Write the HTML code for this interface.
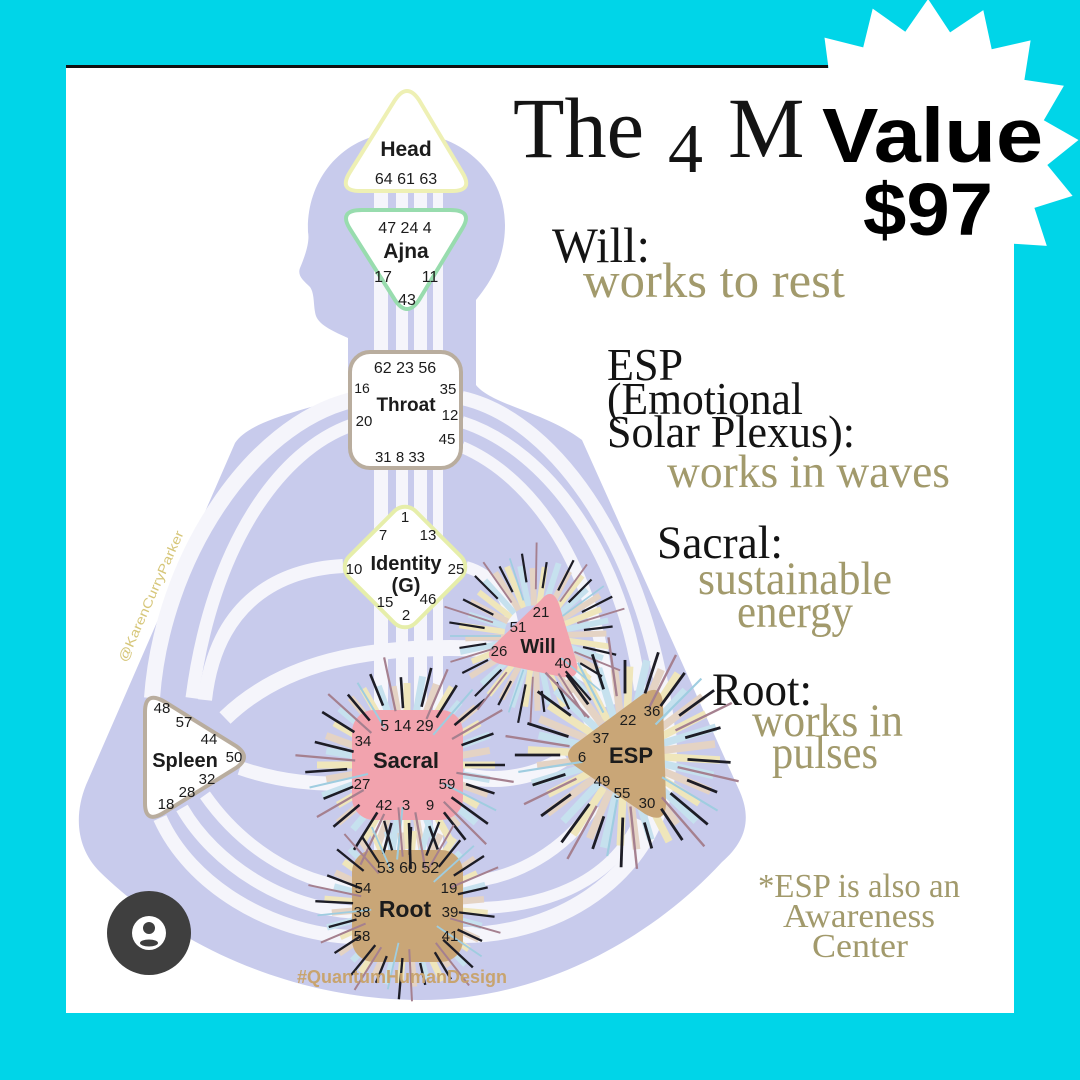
<!DOCTYPE html>
<html><head><meta charset="utf-8"><style>
html,body{margin:0;padding:0;background:#00d5e8;}
svg{display:block}
</style></head><body>
<svg xmlns="http://www.w3.org/2000/svg" xmlns:xlink="http://www.w3.org/1999/xlink" width="1080" height="1080" viewBox="0 0 1080 1080">
<defs>
<clipPath id="mclip"><rect x="0" y="68" width="806" height="200"/></clipPath>
<g id="glow" stroke-width="7" fill="none">
 <g stroke="#efe6bb">
  <line x1="36" x2="88" transform="rotate(0)"/><line x1="36" x2="82" transform="rotate(30)"/><line x1="36" x2="90" transform="rotate(60)"/><line x1="36" x2="84" transform="rotate(90)"/><line x1="36" x2="88" transform="rotate(120)"/><line x1="36" x2="80" transform="rotate(150)"/><line x1="36" x2="90" transform="rotate(180)"/><line x1="36" x2="84" transform="rotate(210)"/><line x1="36" x2="88" transform="rotate(240)"/><line x1="36" x2="82" transform="rotate(270)"/><line x1="36" x2="90" transform="rotate(300)"/><line x1="36" x2="84" transform="rotate(330)"/>
 </g>
 <g stroke="#c6e1ee">
  <line x1="36" x2="84" transform="rotate(10)"/><line x1="36" x2="90" transform="rotate(40)"/><line x1="36" x2="82" transform="rotate(70)"/><line x1="36" x2="88" transform="rotate(100)"/><line x1="36" x2="84" transform="rotate(130)"/><line x1="36" x2="90" transform="rotate(160)"/><line x1="36" x2="82" transform="rotate(190)"/><line x1="36" x2="88" transform="rotate(220)"/><line x1="36" x2="84" transform="rotate(250)"/><line x1="36" x2="90" transform="rotate(280)"/><line x1="36" x2="82" transform="rotate(310)"/><line x1="36" x2="88" transform="rotate(340)"/>
 </g>
 <g stroke="#e4d3c4">
  <line x1="36" x2="86" transform="rotate(20)"/><line x1="36" x2="80" transform="rotate(50)"/><line x1="36" x2="88" transform="rotate(80)"/><line x1="36" x2="84" transform="rotate(110)"/><line x1="36" x2="90" transform="rotate(140)"/><line x1="36" x2="82" transform="rotate(170)"/><line x1="36" x2="86" transform="rotate(200)"/><line x1="36" x2="88" transform="rotate(230)"/><line x1="36" x2="80" transform="rotate(260)"/><line x1="36" x2="86" transform="rotate(290)"/><line x1="36" x2="90" transform="rotate(320)"/><line x1="36" x2="84" transform="rotate(350)"/>
 </g>
</g>
<g id="rays" fill="none">
 <g stroke="#9fcde0" stroke-width="2">
  <line x1="40" x2="100" transform="rotate(27)"/><line x1="42" x2="95" transform="rotate(96)"/><line x1="40" x2="100" transform="rotate(167)"/><line x1="44" x2="96" transform="rotate(239)"/><line x1="40" x2="100" transform="rotate(311)"/>
 </g>
 <g stroke="#a5808f" stroke-width="2.2">
  <line x1="50" x2="108" transform="rotate(9)"/><line x1="52" x2="112" transform="rotate(45)"/><line x1="48" x2="106" transform="rotate(80)"/><line x1="54" x2="110" transform="rotate(115)"/><line x1="50" x2="104" transform="rotate(150)"/><line x1="52" x2="112" transform="rotate(185)"/><line x1="48" x2="106" transform="rotate(222)"/><line x1="55" x2="110" transform="rotate(258)"/><line x1="50" x2="104" transform="rotate(293)"/><line x1="52" x2="110" transform="rotate(330)"/>
 </g>
 <g stroke="#1d1d26" stroke-width="2.6">
  <line x1="58" x2="98" transform="rotate(0)"/><line x1="62" x2="92" transform="rotate(18)"/><line x1="55" x2="100" transform="rotate(36)"/><line x1="60" x2="95" transform="rotate(52)"/><line x1="65" x2="90" transform="rotate(70)"/><line x1="58" x2="104" transform="rotate(88)"/><line x1="60" x2="92" transform="rotate(105)"/><line x1="56" x2="100" transform="rotate(122)"/><line x1="62" x2="96" transform="rotate(140)"/><line x1="58" x2="90" transform="rotate(158)"/><line x1="60" x2="102" transform="rotate(176)"/><line x1="55" x2="95" transform="rotate(194)"/><line x1="62" x2="100" transform="rotate(212)"/><line x1="58" x2="92" transform="rotate(230)"/><line x1="64" x2="98" transform="rotate(248)"/><line x1="57" x2="88" transform="rotate(266)"/><line x1="60" x2="100" transform="rotate(284)"/><line x1="56" x2="94" transform="rotate(302)"/><line x1="62" x2="102" transform="rotate(320)"/><line x1="58" x2="92" transform="rotate(340)"/>
 </g>
</g>
</defs>

<!-- background & panel -->
<rect width="1080" height="1080" fill="#00d5e8"/>
<rect x="66" y="68" width="948" height="945" fill="#ffffff"/>
<rect x="66" y="65" width="762" height="3" fill="#111111"/>

<!-- silhouette -->
<path fill="#c8cbec" d="M400,132 C455,130 505,168 505,225 C505,262 488,285 476,300 L476,385 C492,405 545,412 582,440 L740,792 C752,820 745,842 722,862 C655,935 545,1000 420,1000 C300,1000 180,950 100,872 C76,848 74,815 86,785 L235,443 C250,420 305,410 348,396 L348,338 C335,332 320,326 316,316 C313,306 315,294 310,287 C304,281 297,276 300,268 C305,256 310,242 308,232 C306,180 342,134 400,132 Z"/>

<!-- channels -->
<g fill="#f5f5fb">
 <rect x="374" y="185" width="14" height="675"/>
 <rect x="396" y="185" width="12" height="675"/>
 <rect x="414" y="185" width="13" height="675"/>
 <rect x="433" y="185" width="10" height="675"/>
</g>
<g fill="none" stroke="#f5f5fb">
 <path stroke-width="16" d="M352,400 C250,425 162,560 152,698"/>
 <path stroke-width="13" d="M352,425 C280,450 212,545 192,698"/>
 <path stroke-width="14" d="M343,566 C270,570 215,610 205,700"/>
 <path stroke-width="16" d="M225,718 C285,660 370,648 450,648 C530,648 600,665 612,705"/>
 <path stroke-width="14" d="M462,398 C560,420 650,560 668,730"/>
 <path stroke-width="12" d="M462,422 C550,450 625,560 640,690"/>
 <path stroke-width="12" d="M462,447 C535,478 595,570 608,690"/>
 <path stroke-width="16" d="M668,730 C680,860 570,935 463,935"/>
 <path stroke-width="12" d="M640,820 C610,885 540,910 463,908"/>
 <path stroke-width="12" d="M595,805 C565,850 515,880 463,882"/>
 <path stroke-width="14" d="M160,818 C190,885 270,933 352,937"/>
 <path stroke-width="13" d="M182,808 C215,865 285,908 352,912"/>
 <path stroke-width="12" d="M205,795 C240,845 295,882 352,887"/>
 <path stroke-width="12" d="M466,567 C495,575 508,600 512,622"/>
 <path stroke-width="12" d="M560,665 C575,690 590,720 598,740"/>
 <path stroke-width="14" d="M240,768 C280,782 320,785 352,783"/>
 <path stroke-width="16" d="M463,775 C500,785 540,775 566,757"/>
</g>

<!-- glows -->
<use xlink:href="#glow" href="#glow" transform="translate(407,765)"/>
<use xlink:href="#glow" href="#glow" transform="translate(407,906) rotate(5) scale(0.92)"/>
<use xlink:href="#glow" href="#glow" transform="translate(535,636) rotate(8) scale(0.85)"/>
<use xlink:href="#glow" href="#glow" transform="translate(625,755) rotate(3) scale(1.08)"/>

<!-- centers -->
<path d="M395,100 Q407,82 419,100 L462,172 Q474,191 452,191 L360,191 Q338,191 350,172 Z" fill="#ffffff" stroke="#eef0b4" stroke-width="4"/>
<path d="M362,210 L450,210 Q474,210 462,229 L419,300 Q407,318 395,300 L350,229 Q338,210 362,210 Z" fill="#ffffff" stroke="#98dcae" stroke-width="4"/>
<rect x="350" y="352" width="111" height="116" rx="20" fill="#ffffff" stroke="#b9ad9e" stroke-width="4"/>
<rect x="-47" y="-47" width="94" height="94" rx="15" transform="translate(405,567) rotate(45)" fill="#ffffff" stroke="#e6eeaa" stroke-width="4"/>
<path d="M145,712 Q145,690 165,702 L236,746 Q252,757 236,768 L165,812 Q145,825 145,803 Z" fill="#ffffff" stroke="#b9ad9e" stroke-width="4"/>
<path d="M541,600 Q552,586 559,604 L576,660 Q582,680 562,677 L500,664 Q480,658 496,643 Z" fill="#f2a3ae"/>
<rect x="352" y="710" width="111" height="110" rx="22" fill="#f2a3ae"/>
<rect x="352" y="850" width="111" height="112" rx="22" fill="#c9a677"/>
<path d="M643,694 Q662,682 663,705 L666,800 Q667,826 645,814 L578,768 Q558,755 578,742 Z" fill="#c9a677"/>

<!-- rays -->
<use xlink:href="#rays" href="#rays" transform="translate(407,765)"/>
<use xlink:href="#rays" href="#rays" transform="translate(407,906) rotate(7) scale(0.9)"/>
<use xlink:href="#rays" href="#rays" transform="translate(535,636) rotate(13) scale(0.85)"/>
<use xlink:href="#rays" href="#rays" transform="translate(625,755) rotate(4) scale(1.08)"/>

<!-- center texts -->
<g font-family="'Liberation Sans', Arial, sans-serif" fill="#1c1c1c" font-size="15" text-anchor="middle">
 <text x="406" y="156" font-size="21" font-weight="bold">Head</text>
 <text x="406" y="184" font-size="16">64 61 63</text>

 <text x="405" y="233" font-size="16">47 24 4</text>
 <text x="406" y="258" font-size="21" font-weight="bold">Ajna</text>
 <text x="383" y="282" font-size="16">17</text>
 <text x="430" y="282" font-size="16">11</text>
 <text x="407" y="305" font-size="16">43</text>

 <text x="405" y="373" font-size="16">62 23 56</text>
 <text x="362" y="393" font-size="14">16</text>
 <text x="406" y="411" font-size="19" font-weight="bold">Throat</text>
 <text x="448" y="394">35</text>
 <text x="364" y="426">20</text>
 <text x="450" y="420">12</text>
 <text x="447" y="444">45</text>
 <text x="400" y="462">31 8 33</text>

 <text x="405" y="522">1</text>
 <text x="383" y="540">7</text>
 <text x="428" y="540">13</text>
 <text x="354" y="574">10</text>
 <text x="406" y="570" font-size="20" font-weight="bold">Identity</text>
 <text x="456" y="574">25</text>
 <text x="406" y="592" font-size="20" font-weight="bold">(G)</text>
 <text x="385" y="607">15</text>
 <text x="428" y="604">46</text>
 <text x="406" y="620">2</text>

 <text x="541" y="617">21</text>
 <text x="518" y="632">51</text>
 <text x="499" y="656">26</text>
 <text x="538" y="653" font-size="20" font-weight="bold">Will</text>
 <text x="563" y="668">40</text>

 <text x="407" y="731" font-size="16">5 14 29</text>
 <text x="363" y="746">34</text>
 <text x="406" y="768" font-size="22" font-weight="bold">Sacral</text>
 <text x="362" y="789">27</text>
 <text x="447" y="789">59</text>
 <text x="384" y="810">42</text>
 <text x="406" y="810">3</text>
 <text x="430" y="810">9</text>

 <text x="408" y="873" font-size="16">53 60 52</text>
 <text x="363" y="893">54</text>
 <text x="449" y="893">19</text>
 <text x="362" y="917">38</text>
 <text x="405" y="917" font-size="23" font-weight="bold">Root</text>
 <text x="450" y="917">39</text>
 <text x="362" y="941">58</text>
 <text x="450" y="941">41</text>

 <text x="628" y="725">22</text>
 <text x="652" y="716">36</text>
 <text x="601" y="743">37</text>
 <text x="582" y="762">6</text>
 <text x="631" y="763" font-size="22" font-weight="bold">ESP</text>
 <text x="602" y="786">49</text>
 <text x="622" y="798">55</text>
 <text x="647" y="808">30</text>

 <text x="162" y="713">48</text>
 <text x="184" y="727">57</text>
 <text x="209" y="744">44</text>
 <text x="185" y="767" font-size="20" font-weight="bold">Spleen</text>
 <text x="234" y="762">50</text>
 <text x="207" y="784">32</text>
 <text x="187" y="797">28</text>
 <text x="166" y="809">18</text>
</g>

<!-- watermarks -->
<text transform="translate(155,598) rotate(-66)" text-anchor="middle" font-family="'Liberation Sans', Arial, sans-serif" font-size="13" fill="#d6c679" textLength="142" lengthAdjust="spacingAndGlyphs">@KarenCurryParker</text>
<text x="297" y="983" font-family="'Liberation Sans', Arial, sans-serif" font-size="18" font-weight="bold" fill="#c8a46f" textLength="210" lengthAdjust="spacingAndGlyphs">#QuantumHumanDesign</text>

<!-- profile icon -->
<circle cx="149" cy="933" r="42" fill="#3f3f3f"/>
<circle cx="149" cy="933" r="17" fill="#ffffff"/>
<circle cx="149" cy="928" r="6" fill="#3f3f3f"/>
<ellipse cx="149" cy="943" rx="9" ry="3.5" fill="#3f3f3f"/>

<!-- right text column -->
<g font-family="'Liberation Serif', 'Times New Roman', serif">
 <text x="552" y="262" font-size="50" fill="#141414" textLength="98" lengthAdjust="spacingAndGlyphs">Will:</text>
 <text x="583" y="297" font-size="50" fill="#a29a6c" textLength="262" lengthAdjust="spacingAndGlyphs">works to rest</text>
 <text x="607" y="380" font-size="46" fill="#141414" textLength="76" lengthAdjust="spacingAndGlyphs">ESP</text>
 <text x="607" y="414" font-size="46" fill="#141414" textLength="196" lengthAdjust="spacingAndGlyphs">(Emotional</text>
 <text x="607" y="447" font-size="46" fill="#141414" textLength="248" lengthAdjust="spacingAndGlyphs">Solar Plexus):</text>
 <text x="667" y="487" font-size="47" fill="#a29a6c" textLength="283" lengthAdjust="spacingAndGlyphs">works in waves</text>
 <text x="657" y="558" font-size="47" fill="#141414" textLength="126" lengthAdjust="spacingAndGlyphs">Sacral:</text>
 <text x="698" y="594" font-size="47" fill="#a29a6c" textLength="194" lengthAdjust="spacingAndGlyphs">sustainable</text>
 <text x="737" y="627" font-size="47" fill="#a29a6c" textLength="116" lengthAdjust="spacingAndGlyphs">energy</text>
 <text x="712" y="705" font-size="47" fill="#141414" textLength="100" lengthAdjust="spacingAndGlyphs">Root:</text>
 <text x="752" y="736" font-size="47" fill="#a29a6c" textLength="151" lengthAdjust="spacingAndGlyphs">works in</text>
 <text x="772" y="768" font-size="47" fill="#a29a6c" textLength="106" lengthAdjust="spacingAndGlyphs">pulses</text>
 <text x="758" y="897" font-size="34" fill="#a29a6c" textLength="202" lengthAdjust="spacingAndGlyphs">*ESP is also an</text>
 <text x="783" y="927" font-size="34" fill="#a29a6c" textLength="152" lengthAdjust="spacingAndGlyphs">Awareness</text>
 <text x="812" y="957" font-size="34" fill="#a29a6c" textLength="96" lengthAdjust="spacingAndGlyphs">Center</text>
</g>

<!-- starburst -->
<polygon fill="#ffffff" points="928.1,-1 950.1,32.4 983.3,10.1 991.7,49.2 1030.6,40.4 1024.4,79.9 1063.9,85.7 1043.8,120.3 1078.5,140 1047.3,165 1072.6,195.9 1034.4,207.9 1046.8,245.9 1007,243.3 1004.7,283.2 968.5,266.4 952,302.8 924.3,274 895.8,302 880.3,265.1 843.6,281 842.6,241 802.6,242.5 816,204.9 778.3,191.8 804.4,161.6 773.9,135.7 809.1,117 790,81.9 829.7,77.1 824.5,37.6 863.2,47.4 872.7,8.6 905.3,31.8"/>

<!-- title -->
<g clip-path="url(#mclip)" font-family="'Liberation Serif', 'Times New Roman', serif" fill="#141414">
 <text x="513" y="157" font-size="86" textLength="131" lengthAdjust="spacingAndGlyphs">The</text>
 <text x="668" y="172" font-size="70">4</text>
 <text x="728" y="157" font-size="86">M</text>
</g>

<!-- value -->
<g font-family="'Liberation Sans', Arial, sans-serif" font-weight="bold" fill="#000000">
 <text x="822" y="162" font-size="77" textLength="221" lengthAdjust="spacingAndGlyphs">Value</text>
 <text x="863" y="235" font-size="74" textLength="130" lengthAdjust="spacingAndGlyphs">$97</text>
</g>
</svg>
</body></html>
